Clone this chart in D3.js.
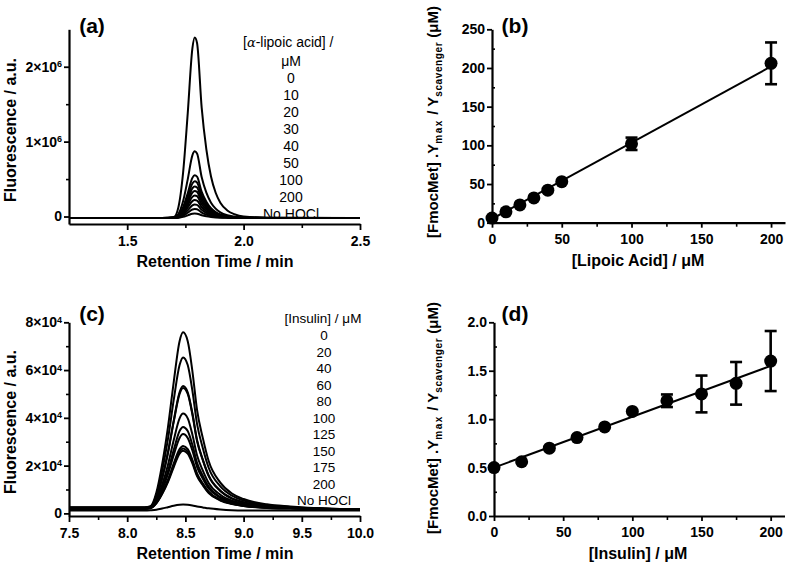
<!DOCTYPE html>
<html><head><meta charset="utf-8">
<script src="https://cdn.jsdelivr.net/npm/d3@7"></script>
<style>
body{margin:0;background:#fff;}
svg{display:block;font-family:"Liberation Sans",Arial,Helvetica,sans-serif;}
</style></head><body>
<svg id="chart" width="787" height="563"></svg>
<script>
// ---------- Panel (a): chromatograms, alpha-lipoic acid (fluorescence in units of 1e6) ----------
const timeA = [1.25,1.65,1.70,1.72,1.74,1.76,1.78,1.79,1.80,1.82,1.84,1.86,1.88,1.90,1.93,1.96,2.00,2.10,2.50];
const traceA0  = [-0.02,-0.02,-0.008,0.125,0.583,1.378,2.245,2.39,2.318,1.45,0.896,0.534,0.317,0.185,0.081,0.031,-0.001,-0.015,-0.02];
const traceA1  = [-0.02,-0.02,-0.016,0.033,0.203,0.496,0.817,0.87,0.843,0.523,0.318,0.185,0.105,0.056,0.017,-0.001,-0.013,-0.018,-0.02];
const traceA2  = [-0.02,-0.02,-0.017,0.014,0.123,0.311,0.516,0.55,0.533,0.328,0.197,0.111,0.06,0.028,0.004,-0.008,-0.015,-0.019,-0.02];
const traceA3  = [-0.02,-0.02,-0.018,0.009,0.103,0.264,0.441,0.47,0.455,0.279,0.166,0.093,0.049,0.022,0.001,-0.01,-0.016,-0.019,-0.02];
const traceA4  = [-0.02,-0.02,-0.018,0.005,0.085,0.224,0.375,0.40,0.387,0.236,0.14,0.077,0.039,0.016,-0.002,-0.011,-0.017,-0.019,-0.02];
const traceA5  = [-0.02,-0.02,-0.018,0.002,0.07,0.189,0.318,0.34,0.329,0.2,0.117,0.063,0.03,0.011,-0.005,-0.012,-0.017,-0.019,-0.02];
const traceA6  = [-0.02,-0.02,-0.019,-0.002,0.055,0.154,0.262,0.28,0.271,0.163,0.094,0.049,0.022,0.006,-0.007,-0.014,-0.018,-0.02,-0.02];
const traceA7  = [-0.02,-0.02,-0.019,-0.006,0.04,0.119,0.206,0.22,0.213,0.126,0.071,0.035,0.014,0.0,-0.01,-0.015,-0.018,-0.02,-0.02];
const traceA8  = [-0.02,-0.02,-0.019,-0.009,0.025,0.084,0.149,0.16,0.155,0.09,0.048,0.021,0.005,-0.005,-0.012,-0.016,-0.019,-0.02,-0.02];
const traceA9  = [-0.02,-0.02,-0.019,-0.013,0.01,0.05,0.093,0.10,0.096,0.053,0.026,0.008,-0.003,-0.01,-0.015,-0.017,-0.019,-0.02,-0.02];
const traceA10 = [-0.02,-0.02,-0.02,-0.016,-0.005,0.015,0.036,0.04,0.038,0.017,0.003,-0.006,-0.012,-0.015,-0.017,-0.019,-0.02,-0.02,-0.02];
const tracesA = [traceA0,traceA1,traceA2,traceA3,traceA4,traceA5,traceA6,traceA7,traceA8,traceA9,traceA10];
const legendA = ["0","10","20","30","40","50","100","200","No HOCl"];
const xTicksA = [1.5,2.0,2.5];
const xMinorA = [1.75,2.25];
const yTicksA = [0,1,2];
const yMinorA = [0.5,1.5];

// ---------- Panel (b): lipoic acid calibration ----------
const lipoicConc  = [0,10,20,30,40,50,100,200];
const lipoicRatio = [6,14,23,32,42,53,102,206];
const lipoicErr   = [0,0,0,0,0,0,8,27];
const lipoicFit   = [[0,5],[200,202]];
const xTicksB = [0,50,100,150,200];
const xMinorB = [25,75,125,175];
const yTicksB = [0,50,100,150,200,250];
const yMinorB = [25,75,125,175,225];

// ---------- Panel (c): chromatograms, insulin (fluorescence in units of 1e4) ----------
const timeC = [7.5,8.15,8.2,8.25,8.3,8.35,8.4,8.45,8.48,8.52,8.56,8.6,8.65,8.7,8.8,8.9,9.0,9.2,9.4,9.7,10.0];
const traceC0  = [0.26,0.26,0.3,0.86,2.05,3.6,5.51,7.21,7.58,7.21,5.96,4.33,3.15,2.19,1.29,0.83,0.6,0.38,0.29,0.2,0.17];
const traceC1  = [0.24,0.24,0.28,0.77,1.78,3.11,4.76,6.21,6.53,6.21,5.14,3.75,2.73,1.91,1.13,0.74,0.54,0.35,0.27,0.2,0.17];
const traceC2  = [0.22,0.22,0.26,0.66,1.48,2.56,3.89,5.07,5.33,5.07,4.2,3.07,2.25,1.59,0.95,0.63,0.47,0.31,0.25,0.19,0.16];
const traceC3  = [0.2,0.2,0.25,0.66,1.46,2.52,3.84,5.0,5.25,5.0,4.14,3.03,2.22,1.56,0.94,0.62,0.46,0.31,0.25,0.19,0.16];
const traceC4  = [0.25,0.25,0.28,0.56,1.2,2.03,3.07,3.98,4.18,3.98,3.3,2.43,1.79,1.27,0.78,0.53,0.4,0.28,0.23,0.18,0.16];
const traceC5  = [0.21,0.21,0.24,0.51,1.06,1.77,2.66,3.45,3.62,3.45,2.87,2.12,1.57,1.12,0.69,0.48,0.37,0.26,0.22,0.18,0.16];
const traceC6  = [0.23,0.23,0.25,0.48,0.98,1.64,2.45,3.16,3.32,3.16,2.63,1.95,1.45,1.04,0.65,0.45,0.35,0.25,0.22,0.18,0.16];
const traceC7  = [0.19,0.19,0.23,0.44,0.86,1.41,2.09,2.69,2.82,2.69,2.24,1.67,1.25,0.91,0.57,0.41,0.32,0.24,0.21,0.18,0.16];
const traceC8  = [0.2,0.2,0.23,0.43,0.83,1.36,2.01,2.59,2.72,2.59,2.17,1.61,1.21,0.88,0.56,0.4,0.31,0.24,0.21,0.18,0.16];
const traceC9  = [0.18,0.18,0.21,0.42,0.81,1.31,1.94,2.5,2.62,2.5,2.09,1.56,1.17,0.85,0.54,0.39,0.31,0.23,0.2,0.17,0.16];
const traceC10 = [0.12,0.12,0.13,0.15,0.2,0.26,0.32,0.36,0.37,0.36,0.33,0.29,0.25,0.21,0.16,0.13,0.12,0.12,0.12,0.12,0.12];
const tracesC = [traceC0,traceC1,traceC2,traceC3,traceC4,traceC5,traceC6,traceC7,traceC8,traceC9,traceC10];
const legendC = ["0","20","40","60","80","100","125","150","175","200","No HOCl"];
const xTicksC = [7.5,8.0,8.5,9.0,9.5,10.0];
const xMinorC = [7.75,8.25,8.75,9.25,9.75];
const yTicksC = [0,2,4,6,8];
const yMinorC = [1,3,5,7];

// ---------- Panel (d): insulin calibration ----------
const insulinConc  = [0,20,40,60,80,100,125,150,175,200];
const insulinRatio = [0.50,0.56,0.70,0.81,0.92,1.08,1.19,1.26,1.37,1.60];
const insulinErr   = [0,0,0,0,0,0,0.065,0.19,0.22,0.31];
const insulinFit   = [[0,0.50],[200,1.55]];
const xTicksD = [0,50,100,150,200];
const xMinorD = [25,75,125,175];
const yTicksD = [0,0.5,1.0,1.5,2.0];
const yMinorD = [0.25,0.75,1.25,1.75];

// ================= drawing =================
const FONT = '"Liberation Sans", Arial, Helvetica, sans-serif';
const svg = d3.select("#chart");

function styleAxis(g){
  g.select(".domain").attr("stroke","#000").attr("stroke-width",2.2);
  g.selectAll(".tick line").attr("stroke","#000").attr("stroke-width",1.8);
  g.selectAll(".tick text").attr("fill","#000").attr("font-weight","bold")
    .attr("font-size",14).attr("font-family",FONT);
}
function minorAxis(g){
  g.select(".domain").remove();
  g.selectAll(".tick line").attr("stroke","#000").attr("stroke-width",1.6);
  g.selectAll(".tick text").remove();
}
function sciLabels(g, exp){
  g.selectAll(".tick text").each(function(d){
    const t = d3.select(this);
    t.text(null);
    if (d === 0) { t.text("0"); return; }
    t.append("tspan").text(d + "\u00d710");
    t.append("tspan").attr("dy","-0.5em").attr("font-size",9).text(exp);
  });
}
function title(x, y, s){
  svg.append("text").attr("x",x).attr("y",y).attr("text-anchor","middle")
    .attr("font-weight","bold").attr("font-size",21).attr("font-family",FONT).text(s);
}
function xLabel(x, y, s){
  svg.append("text").attr("x",x).attr("y",y).attr("text-anchor","middle")
    .attr("font-weight","bold").attr("font-size",16).attr("font-family",FONT).text(s);
}
function yLabelPlain(x, y, s){
  svg.append("text").attr("transform",`translate(${x},${y}) rotate(-90)`)
    .attr("text-anchor","middle").attr("dy","0.35em")
    .attr("font-weight","bold").attr("font-size",16).attr("font-family",FONT).text(s);
}
function yLabelRatio(x, y){
  const t = svg.append("text").attr("transform",`translate(${x},${y}) rotate(-90)`)
    .attr("text-anchor","middle").attr("dy","0.35em")
    .attr("font-weight","bold").attr("font-size",15).attr("font-family",FONT);
  t.append("tspan").text("[FmocMet] .Y");
  t.append("tspan").attr("font-size",10).attr("dy",4).attr("letter-spacing",1.6).text("max");
  t.append("tspan").attr("dy",-4).text(" / Y");
  t.append("tspan").attr("font-size",10).attr("dy",4).attr("letter-spacing",0.6).text("scavenger");
  t.append("tspan").attr("dy",-4).text(" (\u03bcM)");
}

// ---- chromatogram panel ----
function chromPanel(cfg){
  const x = d3.scaleLinear().domain(cfg.xDomain).range([69,360]);
  const y = d3.scaleLinear().domain(cfg.yDomain).range([cfg.y0, cfg.y1]);
  const line = d3.line().x((d,i)=>x(cfg.time[i])).y(d=>y(d)).curve(d3.curveMonotoneX);
  svg.append("g").selectAll("path").data(cfg.traces).join("path")
    .attr("d", line).attr("fill","none").attr("stroke","#000").attr("stroke-width",2)
    .attr("stroke-linejoin","round");
  svg.append("g").attr("transform",`translate(0,${cfg.y0})`)
    .call(d3.axisBottom(x).tickValues(cfg.xMinor).tickSize(4).tickFormat("")).call(minorAxis);
  svg.append("g").attr("transform",`translate(69,0)`)
    .call(d3.axisLeft(y).tickValues(cfg.yMinor).tickSize(3).tickFormat("")).call(minorAxis);
  svg.append("g").attr("transform",`translate(0,${cfg.y0})`)
    .call(d3.axisBottom(x).tickValues(cfg.xTicks).tickSize(6).tickSizeOuter(0).tickPadding(6).tickFormat(d3.format(".1f")))
    .call(styleAxis);
  svg.append("g").attr("transform",`translate(69,0)`)
    .call(d3.axisLeft(y).tickValues(cfg.yTicks).tickSize(5).tickSizeOuter(0).tickPadding(2))
    .call(styleAxis).call(g=>sciLabels(g,cfg.exp));
  // legend text
  const lg = svg.append("g").attr("font-family",FONT).attr("font-size",cfg.legFont).attr("fill","#000");
  cfg.legendHead(lg);
  lg.selectAll("text.item").data(cfg.legend).join("text").attr("class","item")
    .attr("x",cfg.legX).attr("y",(d,i)=>cfg.legY0 + i*cfg.legDy).attr("text-anchor","middle").text(d=>d);
}

chromPanel({
  time: timeA, traces: tracesA, xDomain:[1.25,2.5], yDomain:[-0.1,2.5], y0:224, y1:29.3,
  xTicks:xTicksA, xMinor:xMinorA, yTicks:yTicksA, yMinor:yMinorA, exp:"6",
  legend: legendA, legX: 291, legY0: 83, legDy: 17, legFont: 14,
  legendHead: g=>{
    const t = g.append("text").attr("x",243).attr("y",47);
    t.append("tspan").text("[");
    t.append("tspan").attr("font-family",'"DejaVu Serif", serif').attr("font-style","italic").attr("font-size",13).text("\u03b1");
    t.append("tspan").text("-lipoic acid] /");
    g.append("text").attr("x",291).attr("y",66).attr("text-anchor","middle").text("\u03bcM");
  }
});
chromPanel({
  time: timeC, traces: tracesC, xDomain:[7.5,10.0], yDomain:[-0.11,8], y0:516, y1:322.3,
  xTicks:xTicksC, xMinor:xMinorC, yTicks:yTicksC, yMinor:yMinorC, exp:"4",
  legend: legendC, legX: 324, legY0: 340, legDy: 16.5, legFont: 13.5,
  legendHead: g=>{
    g.append("text").attr("x",323).attr("y",323).attr("text-anchor","middle").text("[Insulin] / \u03bcM");
  }
});

title(92,33,"(a)"); title(92,321,"(c)");
xLabel(215,267,"Retention Time / min"); xLabel(215,559,"Retention Time / min");
yLabelPlain(10,130,"Fluorescence / a.u."); yLabelPlain(10,422,"Fluorescence / a.u.");

// ---- calibration panel ----
function calPanel(cfg){
  const x = d3.scaleLinear().domain([0,210]).range([cfg.xl, cfg.xr]);
  const y = d3.scaleLinear().domain(cfg.yDomain).range([cfg.y0, cfg.y1]);
  svg.append("g").attr("transform",`translate(0,${cfg.y0})`)
    .call(d3.axisBottom(x).tickValues(cfg.xMinor).tickSize(4).tickFormat("")).call(minorAxis);
  svg.append("g").attr("transform",`translate(${cfg.xl},0)`)
    .call(d3.axisRight(y).tickValues(cfg.yMinor).tickSize(3).tickFormat("")).call(minorAxis);
  svg.append("g").attr("transform",`translate(0,${cfg.y0})`)
    .call(d3.axisBottom(x).tickValues(cfg.xTicks).tickSize(5).tickSizeOuter(0).tickPadding(6).tickFormat(d3.format("d")))
    .call(styleAxis);
  svg.append("g").attr("transform",`translate(${cfg.xl},0)`)
    .call(d3.axisLeft(y).tickValues(cfg.yTicks).tickSize(5).tickSizeOuter(0).tickPadding(2).tickFormat(cfg.yFmt))
    .call(styleAxis);
  // fit line
  svg.append("path").datum(cfg.fit)
    .attr("d", d3.line().x(d=>x(d[0])).y(d=>y(d[1])))
    .attr("fill","none").attr("stroke","#000").attr("stroke-width",2);
  const pts = cfg.conc.map((c,i)=>({c, v:cfg.vals[i], e:cfg.errs[i]}));
  const eb = svg.append("g").attr("stroke","#000").attr("stroke-width",2.6);
  pts.filter(p=>p.e>0).forEach(p=>{
    eb.append("line").attr("x1",x(p.c)).attr("x2",x(p.c)).attr("y1",y(p.v-p.e)).attr("y2",y(p.v+p.e));
    eb.append("line").attr("x1",x(p.c)-6).attr("x2",x(p.c)+6).attr("y1",y(p.v-p.e)).attr("y2",y(p.v-p.e));
    eb.append("line").attr("x1",x(p.c)-6).attr("x2",x(p.c)+6).attr("y1",y(p.v+p.e)).attr("y2",y(p.v+p.e));
  });
  svg.append("g").selectAll("circle").data(pts).join("circle")
    .attr("cx",d=>x(d.c)).attr("cy",d=>y(d.v)).attr("r",6.5).attr("fill","#000");
}

calPanel({xl:492, xr:785, y0:222.7, y1:29.3, yDomain:[0,250], conc:lipoicConc, vals:lipoicRatio, errs:lipoicErr,
  fit:lipoicFit, xTicks:xTicksB, xMinor:xMinorB, yTicks:yTicksB, yMinor:yMinorB, yFmt:d3.format("d")});
calPanel({xl:494, xr:784.5, y0:516, y1:322.3, yDomain:[0,2], conc:insulinConc, vals:insulinRatio, errs:insulinErr,
  fit:insulinFit, xTicks:xTicksD, xMinor:xMinorD, yTicks:yTicksD, yMinor:yMinorD, yFmt:d3.format(".1f")});

title(515,33,"(b)"); title(515,321,"(d)");
xLabel(638,266,"[Lipoic Acid] / \u03bcM"); xLabel(638,559,"[Insulin] / \u03bcM");
yLabelRatio(433,122); yLabelRatio(433,418);
</script>
</body></html>
